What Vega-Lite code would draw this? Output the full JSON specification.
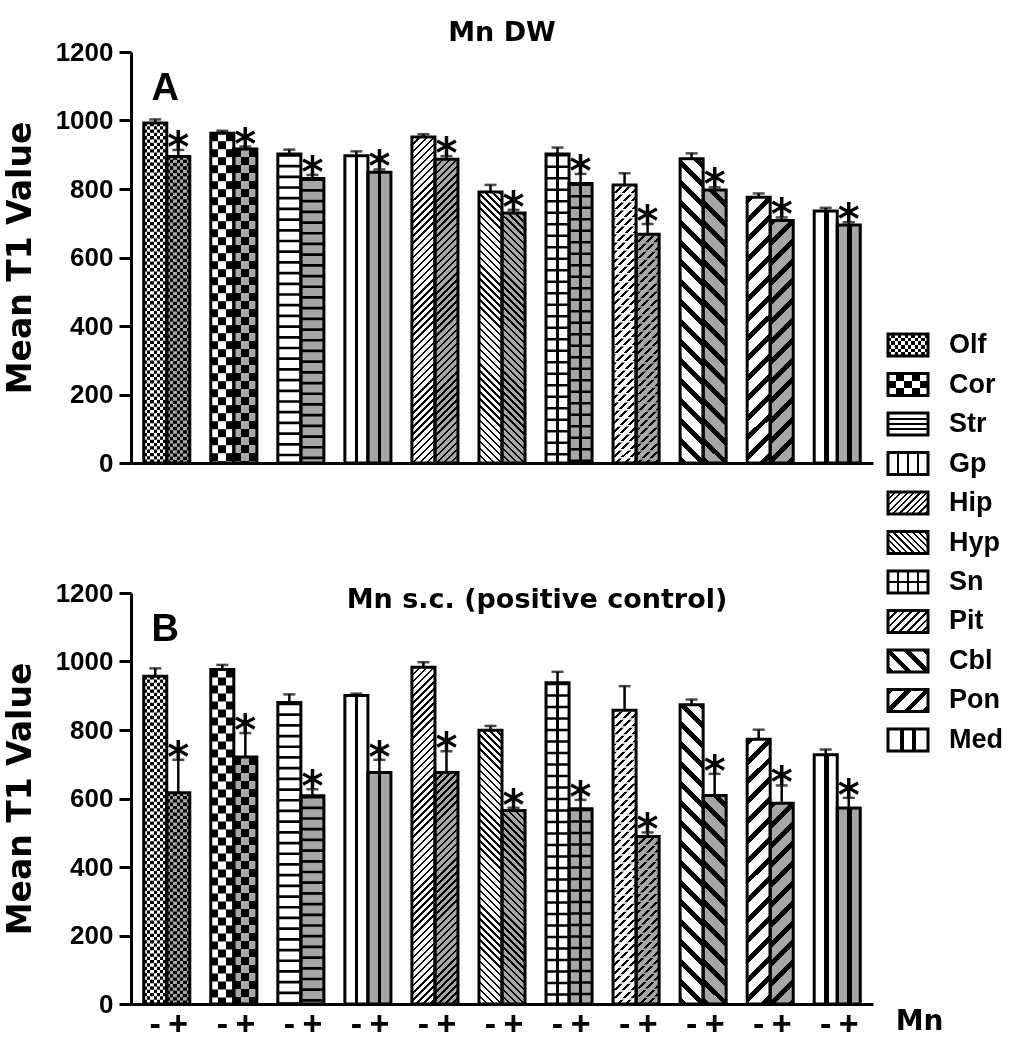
{
"$schema": "https://vega.github.io/schema/vega-lite/v6.json",
"background": "white",
"padding": {"left": 4, "top": 19, "right": 5, "bottom": 5},
"bounds": "flush",
"spacing": 757,
"params": [{"name": "D", "value": [
{"offset":0,"color":"#000"},{"offset":0.0063,"color":"#000"},{"offset":0.0063,"color":"#0000"},{"offset":0.0179,"color":"#0000"},
{"offset":0.0179,"color":"#000"},{"offset":0.0242,"color":"#000"},{"offset":0.0242,"color":"#0000"},{"offset":0.0357,"color":"#0000"},
{"offset":0.0357,"color":"#000"},{"offset":0.042,"color":"#000"},{"offset":0.042,"color":"#0000"},{"offset":0.0536,"color":"#0000"},
{"offset":0.0536,"color":"#000"},{"offset":0.0599,"color":"#000"},{"offset":0.0599,"color":"#0000"},{"offset":0.0714,"color":"#0000"},
{"offset":0.0714,"color":"#000"},{"offset":0.0777,"color":"#000"},{"offset":0.0777,"color":"#0000"},{"offset":0.0893,"color":"#0000"},
{"offset":0.0893,"color":"#000"},{"offset":0.0956,"color":"#000"},{"offset":0.0956,"color":"#0000"},{"offset":0.1071,"color":"#0000"},
{"offset":0.1071,"color":"#000"},{"offset":0.1134,"color":"#000"},{"offset":0.1134,"color":"#0000"},{"offset":0.125,"color":"#0000"},
{"offset":0.125,"color":"#000"},{"offset":0.1313,"color":"#000"},{"offset":0.1313,"color":"#0000"},{"offset":0.1429,"color":"#0000"},
{"offset":0.1429,"color":"#000"},{"offset":0.1492,"color":"#000"},{"offset":0.1492,"color":"#0000"},{"offset":0.1607,"color":"#0000"},
{"offset":0.1607,"color":"#000"},{"offset":0.167,"color":"#000"},{"offset":0.167,"color":"#0000"},{"offset":0.1786,"color":"#0000"},
{"offset":0.1786,"color":"#000"},{"offset":0.1849,"color":"#000"},{"offset":0.1849,"color":"#0000"},{"offset":0.1964,"color":"#0000"},
{"offset":0.1964,"color":"#000"},{"offset":0.2027,"color":"#000"},{"offset":0.2027,"color":"#0000"},{"offset":0.2143,"color":"#0000"},
{"offset":0.2143,"color":"#000"},{"offset":0.2206,"color":"#000"},{"offset":0.2206,"color":"#0000"},{"offset":0.2321,"color":"#0000"},
{"offset":0.2321,"color":"#000"},{"offset":0.2384,"color":"#000"},{"offset":0.2384,"color":"#0000"},{"offset":0.25,"color":"#0000"},
{"offset":0.25,"color":"#000"},{"offset":0.2563,"color":"#000"},{"offset":0.2563,"color":"#0000"},{"offset":0.2679,"color":"#0000"},
{"offset":0.2679,"color":"#000"},{"offset":0.2742,"color":"#000"},{"offset":0.2742,"color":"#0000"},{"offset":0.2857,"color":"#0000"},
{"offset":0.2857,"color":"#000"},{"offset":0.292,"color":"#000"},{"offset":0.292,"color":"#0000"},{"offset":0.3036,"color":"#0000"},
{"offset":0.3036,"color":"#000"},{"offset":0.3099,"color":"#000"},{"offset":0.3099,"color":"#0000"},{"offset":0.3214,"color":"#0000"},
{"offset":0.3214,"color":"#000"},{"offset":0.3277,"color":"#000"},{"offset":0.3277,"color":"#0000"},{"offset":0.3393,"color":"#0000"},
{"offset":0.3393,"color":"#000"},{"offset":0.3456,"color":"#000"},{"offset":0.3456,"color":"#0000"},{"offset":0.3571,"color":"#0000"},
{"offset":0.3571,"color":"#000"},{"offset":0.3634,"color":"#000"},{"offset":0.3634,"color":"#0000"},{"offset":0.375,"color":"#0000"},
{"offset":0.375,"color":"#000"},{"offset":0.3813,"color":"#000"},{"offset":0.3813,"color":"#0000"},{"offset":0.3929,"color":"#0000"},
{"offset":0.3929,"color":"#000"},{"offset":0.3992,"color":"#000"},{"offset":0.3992,"color":"#0000"},{"offset":0.4107,"color":"#0000"},
{"offset":0.4107,"color":"#000"},{"offset":0.417,"color":"#000"},{"offset":0.417,"color":"#0000"},{"offset":0.4286,"color":"#0000"},
{"offset":0.4286,"color":"#000"},{"offset":0.4349,"color":"#000"},{"offset":0.4349,"color":"#0000"},{"offset":0.4464,"color":"#0000"},
{"offset":0.4464,"color":"#000"},{"offset":0.4527,"color":"#000"},{"offset":0.4527,"color":"#0000"},{"offset":0.4643,"color":"#0000"},
{"offset":0.4643,"color":"#000"},{"offset":0.4706,"color":"#000"},{"offset":0.4706,"color":"#0000"},{"offset":0.4821,"color":"#0000"},
{"offset":0.4821,"color":"#000"},{"offset":0.4884,"color":"#000"},{"offset":0.4884,"color":"#0000"},{"offset":0.5,"color":"#0000"},
{"offset":0.5,"color":"#000"},{"offset":0.5063,"color":"#000"},{"offset":0.5063,"color":"#0000"},{"offset":0.5179,"color":"#0000"},
{"offset":0.5179,"color":"#000"},{"offset":0.5242,"color":"#000"},{"offset":0.5242,"color":"#0000"},{"offset":0.5357,"color":"#0000"},
{"offset":0.5357,"color":"#000"},{"offset":0.542,"color":"#000"},{"offset":0.542,"color":"#0000"},{"offset":0.5536,"color":"#0000"},
{"offset":0.5536,"color":"#000"},{"offset":0.5599,"color":"#000"},{"offset":0.5599,"color":"#0000"},{"offset":0.5714,"color":"#0000"},
{"offset":0.5714,"color":"#000"},{"offset":0.5777,"color":"#000"},{"offset":0.5777,"color":"#0000"},{"offset":0.5893,"color":"#0000"},
{"offset":0.5893,"color":"#000"},{"offset":0.5956,"color":"#000"},{"offset":0.5956,"color":"#0000"},{"offset":0.6071,"color":"#0000"},
{"offset":0.6071,"color":"#000"},{"offset":0.6134,"color":"#000"},{"offset":0.6134,"color":"#0000"},{"offset":0.625,"color":"#0000"},
{"offset":0.625,"color":"#000"},{"offset":0.6313,"color":"#000"},{"offset":0.6313,"color":"#0000"},{"offset":0.6429,"color":"#0000"},
{"offset":0.6429,"color":"#000"},{"offset":0.6492,"color":"#000"},{"offset":0.6492,"color":"#0000"},{"offset":0.6607,"color":"#0000"},
{"offset":0.6607,"color":"#000"},{"offset":0.667,"color":"#000"},{"offset":0.667,"color":"#0000"},{"offset":0.6786,"color":"#0000"},
{"offset":0.6786,"color":"#000"},{"offset":0.6849,"color":"#000"},{"offset":0.6849,"color":"#0000"},{"offset":0.6964,"color":"#0000"},
{"offset":0.6964,"color":"#000"},{"offset":0.7027,"color":"#000"},{"offset":0.7027,"color":"#0000"},{"offset":0.7143,"color":"#0000"},
{"offset":0.7143,"color":"#000"},{"offset":0.7206,"color":"#000"},{"offset":0.7206,"color":"#0000"},{"offset":0.7321,"color":"#0000"},
{"offset":0.7321,"color":"#000"},{"offset":0.7384,"color":"#000"},{"offset":0.7384,"color":"#0000"},{"offset":0.75,"color":"#0000"},
{"offset":0.75,"color":"#000"},{"offset":0.7563,"color":"#000"},{"offset":0.7563,"color":"#0000"},{"offset":0.7679,"color":"#0000"},
{"offset":0.7679,"color":"#000"},{"offset":0.7742,"color":"#000"},{"offset":0.7742,"color":"#0000"},{"offset":0.7857,"color":"#0000"},
{"offset":0.7857,"color":"#000"},{"offset":0.792,"color":"#000"},{"offset":0.792,"color":"#0000"},{"offset":0.8036,"color":"#0000"},
{"offset":0.8036,"color":"#000"},{"offset":0.8099,"color":"#000"},{"offset":0.8099,"color":"#0000"},{"offset":0.8214,"color":"#0000"},
{"offset":0.8214,"color":"#000"},{"offset":0.8277,"color":"#000"},{"offset":0.8277,"color":"#0000"},{"offset":0.8393,"color":"#0000"},
{"offset":0.8393,"color":"#000"},{"offset":0.8456,"color":"#000"},{"offset":0.8456,"color":"#0000"},{"offset":0.8571,"color":"#0000"},
{"offset":0.8571,"color":"#000"},{"offset":0.8634,"color":"#000"},{"offset":0.8634,"color":"#0000"},{"offset":0.875,"color":"#0000"},
{"offset":0.875,"color":"#000"},{"offset":0.8813,"color":"#000"},{"offset":0.8813,"color":"#0000"},{"offset":0.8929,"color":"#0000"},
{"offset":0.8929,"color":"#000"},{"offset":0.8992,"color":"#000"},{"offset":0.8992,"color":"#0000"},{"offset":0.9107,"color":"#0000"},
{"offset":0.9107,"color":"#000"},{"offset":0.917,"color":"#000"},{"offset":0.917,"color":"#0000"},{"offset":0.9286,"color":"#0000"},
{"offset":0.9286,"color":"#000"},{"offset":0.9349,"color":"#000"},{"offset":0.9349,"color":"#0000"},{"offset":0.9464,"color":"#0000"},
{"offset":0.9464,"color":"#000"},{"offset":0.9527,"color":"#000"},{"offset":0.9527,"color":"#0000"},{"offset":0.9643,"color":"#0000"},
{"offset":0.9643,"color":"#000"},{"offset":0.9706,"color":"#000"},{"offset":0.9706,"color":"#0000"},{"offset":0.9821,"color":"#0000"},
{"offset":0.9821,"color":"#000"},{"offset":0.9884,"color":"#000"},{"offset":0.9884,"color":"#0000"},{"offset":1,"color":"#0000"}
]}],
"datasets": {
"A": [
{"r":"Olf","m":"-","v":993,"hi":1003},{"r":"Olf","m":"+","v":895,"hi":914},
{"r":"Cor","m":"-","v":963,"hi":970},{"r":"Cor","m":"+","v":917,"hi":924},
{"r":"Str","m":"-","v":902,"hi":915},{"r":"Str","m":"+","v":831,"hi":841},
{"r":"Gp","m":"-","v":897,"hi":910},{"r":"Gp","m":"+","v":849,"hi":857},
{"r":"Hip","m":"-","v":952,"hi":960},{"r":"Hip","m":"+","v":887,"hi":896},
{"r":"Hyp","m":"-","v":791,"hi":812},{"r":"Hyp","m":"+","v":730,"hi":739},
{"r":"Sn","m":"-","v":902,"hi":921},{"r":"Sn","m":"+","v":816,"hi":844},
{"r":"Pit","m":"-","v":812,"hi":846},{"r":"Pit","m":"+","v":668,"hi":698},
{"r":"Cbl","m":"-","v":888,"hi":904},{"r":"Cbl","m":"+","v":797,"hi":805},
{"r":"Pon","m":"-","v":776,"hi":787},{"r":"Pon","m":"+","v":708,"hi":717},
{"r":"Med","m":"-","v":736,"hi":745},{"r":"Med","m":"+","v":695,"hi":703}],
"B": [
{"r":"Olf","m":"-","v":957,"hi":980},{"r":"Olf","m":"+","v":617,"hi":713},
{"r":"Cor","m":"-","v":977,"hi":990},{"r":"Cor","m":"+","v":721,"hi":791},
{"r":"Str","m":"-","v":880,"hi":904},{"r":"Str","m":"+","v":608,"hi":627},
{"r":"Gp","m":"-","v":901,"hi":906},{"r":"Gp","m":"+","v":676,"hi":713},
{"r":"Hip","m":"-","v":983,"hi":998},{"r":"Hip","m":"+","v":676,"hi":738},
{"r":"Hyp","m":"-","v":799,"hi":812},{"r":"Hyp","m":"+","v":565,"hi":573},
{"r":"Sn","m":"-","v":938,"hi":970},{"r":"Sn","m":"+","v":570,"hi":596},
{"r":"Pit","m":"-","v":858,"hi":928},{"r":"Pit","m":"+","v":489,"hi":501},
{"r":"Cbl","m":"-","v":874,"hi":889},{"r":"Cbl","m":"+","v":609,"hi":672},
{"r":"Pon","m":"-","v":773,"hi":801},{"r":"Pon","m":"+","v":586,"hi":638},
{"r":"Med","m":"-","v":728,"hi":743},{"r":"Med","m":"+","v":572,"hi":602}]
},
"hconcat": [
{"vconcat": [
{
"data": {"name": "A"},
"width": 742, "height": 411,
"title": {"text": "Mn DW", "frame": "group", "offset": -8},
"encoding": {
"x": {"field": "r", "type": "nominal", "sort": ["Olf","Cor","Str","Gp","Hip","Hyp","Sn","Pit","Cbl","Pon","Med"], "scale": {"paddingInner": 0.313, "paddingOuter": 0.19}, "axis": {"labels": false, "ticks": false, "title": null, "domainWidth": 3}},
"xOffset": {"field": "m", "type": "nominal", "sort": ["-","+"], "scale": {"paddingInner": 0, "paddingOuter": 0}},
"y": {"field": "v", "type": "quantitative", "scale": {"domain": [0,1200]}, "axis": {"values": [0,200,400,600,800,1000,1200], "format": "d", "grid": false, "title": "Mean T1 Value", "tickSize": 12, "tickWidth": 3, "domainWidth": 3, "labelPadding": 6, "titlePadding": 18}}
},
"layer": [
{"mark": {"type": "bar", "fill": "#fff"}},
{"transform": [{"filter": {"field": "r", "oneOf": ["Olf","Cor","Gp","Sn","Med"]}}], "mark": {"type": "bar", "fill": {"expr": "datum.r=='Cor'?{gradient:'linear',x1:0,y1:0,x2:1,y2:0,stops:[{offset:0.3333,color:'#0000'},{offset:0.3333,color:'#000'},{offset:0.6667,color:'#000'},{offset:0.6667,color:'#0000'}]}:datum.r=='Med'?{gradient:'linear',x1:0,y1:0,x2:1,y2:0,stops:[{offset:0.42,color:'#0000'},{offset:0.42,color:'#000'},{offset:0.64,color:'#000'},{offset:0.64,color:'#0000'}]}:datum.r=='Olf'?{gradient:'linear',x1:0,y1:0,x2:1,y2:0,stops:[{offset:0.1429,color:'#0000'},{offset:0.1429,color:'#000'},{offset:0.2857,color:'#000'},{offset:0.2857,color:'#0000'},{offset:0.4286,color:'#0000'},{offset:0.4286,color:'#000'},{offset:0.5714,color:'#000'},{offset:0.5714,color:'#0000'},{offset:0.7143,color:'#0000'},{offset:0.7143,color:'#000'},{offset:0.8571,color:'#000'},{offset:0.8571,color:'#0000'}]}:{gradient:'linear',x1:0,y1:0,x2:1,y2:0,stops:[{offset:0.45,color:'#0000'},{offset:0.45,color:'#000'},{offset:0.55,color:'#000'},{offset:0.55,color:'#0000'}]}"}}},
{"transform": [{"filter": {"field": "r", "oneOf": ["Str","Sn"]}}], "mark": {"type": "rule", "color": "#000", "strokeWidth": 23}, "encoding": {"y2": {"datum": 0}, "strokeDash": {"condition": {"test": "datum.r=='Str'", "value": [2.7,8]}, "value": [2.5,9]}}},
{"transform": [{"filter": {"field": "r", "oneOf": ["Olf","Cor"]}}], "mark": {"type": "rule", "color": "#fff", "strokeWidth": 23, "blend": "difference"}, "encoding": {"y2": {"datum": 0}, "strokeDash": {"condition": {"test": "datum.r=='Cor'", "value": [8,8]}, "value": [3.3,3.3]}}},
{"transform": [{"filter": {"field": "r", "oneOf": ["Hip","Pon","Pit"]}}], "mark": {"type": "bar", "fill": {"expr": "{gradient:'linear',x1:0,y1:0,x2:79.2*(datum.r=='Pon'?14:datum.r=='Pit'?6:5)*23/(529+pow(datum.v*0.3425,2)),y2:79.2*(datum.r=='Pon'?14:datum.r=='Pit'?6:5)*datum.v*0.3425/(529+pow(datum.v*0.3425,2)),stops:D}"}}},
{"transform": [{"filter": {"field": "r", "oneOf": ["Hyp","Cbl"]}}], "mark": {"type": "bar", "fill": {"expr": "{gradient:'linear',x1:0,y1:1,x2:79.2*(datum.r=='Cbl'?14:5)*23/(529+pow(datum.v*0.3425,2)),y2:1-79.2*(datum.r=='Cbl'?14:5)*datum.v*0.3425/(529+pow(datum.v*0.3425,2)),stops:D}"}}},
{"transform": [{"filter": "datum.r=='Pit'"}], "mark": {"type": "rule", "color": "#fff", "strokeWidth": 23, "strokeDash": [1.5,6.5]}, "encoding": {"y2": {"datum": 0}}},
{"transform": [{"filter": "datum.m=='+'"}], "mark": {"type": "bar", "fill": "#a6a6a6", "blend": "multiply"}},
{"mark": {"type": "bar", "fill": "transparent", "stroke": "#000", "strokeWidth": 3}},
{"mark": {"type": "rule", "color": "#000", "strokeWidth": 2.5}, "encoding": {"y": {"field": "hi", "type": "quantitative"}, "y2": {"field": "v"}}},
{"mark": {"type": "tick", "color": "#000", "size": 12, "thickness": 2.5}, "encoding": {"y": {"field": "hi", "type": "quantitative"}}},
{"transform": [{"filter": "datum.m=='+'"}], "mark": {"type": "text", "text": "*", "font": "DejaVu Sans", "fontWeight": "bold", "fontSize": 42, "baseline": "alphabetic", "dy": 12, "color": "#000"}, "encoding": {"y": {"field": "hi", "type": "quantitative"}}},
{"transform": [{"filter": "datum.r=='Olf' && datum.m=='-'"}], "mark": {"type": "text", "text": "A", "font": "Liberation Sans", "fontWeight": "bold", "fontSize": 38, "baseline": "alphabetic", "align": "center", "dx": 10, "color": "#000"}, "encoding": {"y": {"datum": 1060}}}
]
},
{
"data": {"name": "B"},
"width": 742, "height": 411,
"title": {"text": "Mn s.c. (positive control)", "frame": "group", "offset": -34, "dx": 35},
"encoding": {
"x": {"field": "r", "type": "nominal", "sort": ["Olf","Cor","Str","Gp","Hip","Hyp","Sn","Pit","Cbl","Pon","Med"], "scale": {"paddingInner": 0.313, "paddingOuter": 0.19}, "axis": {"labels": false, "ticks": false, "title": null, "domainWidth": 3}},
"xOffset": {"field": "m", "type": "nominal", "sort": ["-","+"], "scale": {"paddingInner": 0, "paddingOuter": 0}},
"y": {"field": "v", "type": "quantitative", "scale": {"domain": [0,1200]}, "axis": {"values": [0,200,400,600,800,1000,1200], "format": "d", "grid": false, "title": "Mean T1 Value", "tickSize": 12, "tickWidth": 3, "domainWidth": 3, "labelPadding": 6, "titlePadding": 18}}
},
"layer": [
{"mark": {"type": "bar", "fill": "#fff"}},
{"transform": [{"filter": {"field": "r", "oneOf": ["Olf","Cor","Gp","Sn","Med"]}}], "mark": {"type": "bar", "fill": {"expr": "datum.r=='Cor'?{gradient:'linear',x1:0,y1:0,x2:1,y2:0,stops:[{offset:0.3333,color:'#0000'},{offset:0.3333,color:'#000'},{offset:0.6667,color:'#000'},{offset:0.6667,color:'#0000'}]}:datum.r=='Med'?{gradient:'linear',x1:0,y1:0,x2:1,y2:0,stops:[{offset:0.42,color:'#0000'},{offset:0.42,color:'#000'},{offset:0.64,color:'#000'},{offset:0.64,color:'#0000'}]}:datum.r=='Olf'?{gradient:'linear',x1:0,y1:0,x2:1,y2:0,stops:[{offset:0.1429,color:'#0000'},{offset:0.1429,color:'#000'},{offset:0.2857,color:'#000'},{offset:0.2857,color:'#0000'},{offset:0.4286,color:'#0000'},{offset:0.4286,color:'#000'},{offset:0.5714,color:'#000'},{offset:0.5714,color:'#0000'},{offset:0.7143,color:'#0000'},{offset:0.7143,color:'#000'},{offset:0.8571,color:'#000'},{offset:0.8571,color:'#0000'}]}:{gradient:'linear',x1:0,y1:0,x2:1,y2:0,stops:[{offset:0.45,color:'#0000'},{offset:0.45,color:'#000'},{offset:0.55,color:'#000'},{offset:0.55,color:'#0000'}]}"}}},
{"transform": [{"filter": {"field": "r", "oneOf": ["Str","Sn"]}}], "mark": {"type": "rule", "color": "#000", "strokeWidth": 23}, "encoding": {"y2": {"datum": 0}, "strokeDash": {"condition": {"test": "datum.r=='Str'", "value": [2.7,8]}, "value": [2.5,9]}}},
{"transform": [{"filter": {"field": "r", "oneOf": ["Olf","Cor"]}}], "mark": {"type": "rule", "color": "#fff", "strokeWidth": 23, "blend": "difference"}, "encoding": {"y2": {"datum": 0}, "strokeDash": {"condition": {"test": "datum.r=='Cor'", "value": [8,8]}, "value": [3.3,3.3]}}},
{"transform": [{"filter": {"field": "r", "oneOf": ["Hip","Pon","Pit"]}}], "mark": {"type": "bar", "fill": {"expr": "{gradient:'linear',x1:0,y1:0,x2:79.2*(datum.r=='Pon'?14:datum.r=='Pit'?6:5)*23/(529+pow(datum.v*0.3425,2)),y2:79.2*(datum.r=='Pon'?14:datum.r=='Pit'?6:5)*datum.v*0.3425/(529+pow(datum.v*0.3425,2)),stops:D}"}}},
{"transform": [{"filter": {"field": "r", "oneOf": ["Hyp","Cbl"]}}], "mark": {"type": "bar", "fill": {"expr": "{gradient:'linear',x1:0,y1:1,x2:79.2*(datum.r=='Cbl'?14:5)*23/(529+pow(datum.v*0.3425,2)),y2:1-79.2*(datum.r=='Cbl'?14:5)*datum.v*0.3425/(529+pow(datum.v*0.3425,2)),stops:D}"}}},
{"transform": [{"filter": "datum.r=='Pit'"}], "mark": {"type": "rule", "color": "#fff", "strokeWidth": 23, "strokeDash": [1.5,6.5]}, "encoding": {"y2": {"datum": 0}}},
{"transform": [{"filter": "datum.m=='+'"}], "mark": {"type": "bar", "fill": "#a6a6a6", "blend": "multiply"}},
{"mark": {"type": "bar", "fill": "transparent", "stroke": "#000", "strokeWidth": 3}},
{"mark": {"type": "rule", "color": "#000", "strokeWidth": 2.5}, "encoding": {"y": {"field": "hi", "type": "quantitative"}, "y2": {"field": "v"}}},
{"mark": {"type": "tick", "color": "#000", "size": 12, "thickness": 2.5}, "encoding": {"y": {"field": "hi", "type": "quantitative"}}},
{"transform": [{"filter": "datum.m=='+'"}], "mark": {"type": "text", "text": "*", "font": "DejaVu Sans", "fontWeight": "bold", "fontSize": 42, "baseline": "alphabetic", "dy": 12, "color": "#000"}, "encoding": {"y": {"field": "hi", "type": "quantitative"}}},
{"mark": {"type": "text", "font": "Liberation Sans", "fontWeight": "bold", "fontSize": 34, "baseline": "middle", "dy": 21, "color": "#000"}, "encoding": {"y": {"datum": 0}, "text": {"field": "m"}}},
{"transform": [{"filter": "datum.r=='Olf' && datum.m=='-'"}], "mark": {"type": "text", "text": "B", "font": "Liberation Sans", "fontWeight": "bold", "fontSize": 38, "baseline": "alphabetic", "align": "center", "dx": 10, "color": "#000"}, "encoding": {"y": {"datum": 1060}}},
{"transform": [{"filter": "datum.r=='Med' && datum.m=='+'"}], "mark": {"type": "text", "text": "Mn", "font": "DejaVu Sans", "fontWeight": "bold", "fontSize": 28, "baseline": "middle", "align": "left", "dx": 47, "dy": 18, "color": "#000"}, "encoding": {"y": {"datum": 0}}}
]
}
], "spacing": 130, "bounds": "flush"},
{
"data": {"values": [{"r":"Olf"},{"r":"Cor"},{"r":"Str"},{"r":"Gp"},{"r":"Hip"},{"r":"Hyp"},{"r":"Sn"},{"r":"Pit"},{"r":"Cbl"},{"r":"Pon"},{"r":"Med"}]},
"width": 140, "height": 700,
"encoding": {"y": {"field": "r", "type": "nominal", "sort": null, "scale": {"paddingInner": 0.443, "paddingOuter": 0, "range": [282, 699]}, "axis": null}},
"layer": [
{"mark": {"type": "rect", "fill": "#fff"}, "encoding": {"x": {"datum": 0, "type": "quantitative", "scale": {"domain": [0,140]}, "axis": null}, "x2": {"datum": 40}}},
{"transform": [{"filter": {"field": "r", "oneOf": ["Olf","Cor","Gp","Sn","Med"]}}], "mark": {"type": "rect", "fill": {"expr": "datum.r=='Olf'?{gradient:'linear',x1:0,y1:0,x2:1,y2:0,stops:[{offset:0.0833,color:'#0000'},{offset:0.0833,color:'#000'},{offset:0.1667,color:'#000'},{offset:0.1667,color:'#0000'},{offset:0.25,color:'#0000'},{offset:0.25,color:'#000'},{offset:0.3333,color:'#000'},{offset:0.3333,color:'#0000'},{offset:0.4167,color:'#0000'},{offset:0.4167,color:'#000'},{offset:0.5,color:'#000'},{offset:0.5,color:'#0000'},{offset:0.5833,color:'#0000'},{offset:0.5833,color:'#000'},{offset:0.6667,color:'#000'},{offset:0.6667,color:'#0000'},{offset:0.75,color:'#0000'},{offset:0.75,color:'#000'},{offset:0.8333,color:'#000'},{offset:0.8333,color:'#0000'},{offset:0.9167,color:'#0000'},{offset:0.9167,color:'#000'}]}:datum.r=='Cor'?{gradient:'linear',x1:0,y1:0,x2:1,y2:0,stops:[{offset:0.2,color:'#0000'},{offset:0.2,color:'#000'},{offset:0.4,color:'#000'},{offset:0.4,color:'#0000'},{offset:0.6,color:'#0000'},{offset:0.6,color:'#000'},{offset:0.8,color:'#000'},{offset:0.8,color:'#0000'}]}:datum.r=='Med'?{gradient:'linear',x1:0,y1:0,x2:1,y2:0,stops:[{offset:0.29,color:'#0000'},{offset:0.29,color:'#000'},{offset:0.39,color:'#000'},{offset:0.39,color:'#0000'},{offset:0.61,color:'#0000'},{offset:0.61,color:'#000'},{offset:0.71,color:'#000'},{offset:0.71,color:'#0000'}]}:{gradient:'linear',x1:0,y1:0,x2:1,y2:0,stops:[{offset:0.225,color:'#0000'},{offset:0.225,color:'#000'},{offset:0.275,color:'#000'},{offset:0.275,color:'#0000'},{offset:0.475,color:'#0000'},{offset:0.475,color:'#000'},{offset:0.525,color:'#000'},{offset:0.525,color:'#0000'},{offset:0.725,color:'#0000'},{offset:0.725,color:'#000'},{offset:0.775,color:'#000'},{offset:0.775,color:'#0000'}]}"}}, "encoding": {"x": {"datum": 0, "type": "quantitative"}, "x2": {"datum": 40}}},
{"transform": [{"filter": {"field": "r", "oneOf": ["Str","Sn"]}}], "mark": {"type": "rect", "fill": {"expr": "datum.r=='Str'?{gradient:'linear',x1:0,y1:0,x2:0.0001,y2:1,stops:[{offset:0.22,color:'#0000'},{offset:0.22,color:'#000'},{offset:0.3,color:'#000'},{offset:0.3,color:'#0000'},{offset:0.46,color:'#0000'},{offset:0.46,color:'#000'},{offset:0.54,color:'#000'},{offset:0.54,color:'#0000'},{offset:0.7,color:'#0000'},{offset:0.7,color:'#000'},{offset:0.78,color:'#000'},{offset:0.78,color:'#0000'}]}:{gradient:'linear',x1:0,y1:0,x2:0.0001,y2:1,stops:[{offset:0.44,color:'#0000'},{offset:0.44,color:'#000'},{offset:0.56,color:'#000'},{offset:0.56,color:'#0000'}]}"}}, "encoding": {"x": {"datum": 0, "type": "quantitative"}, "x2": {"datum": 40}}},
{"transform": [{"filter": {"field": "r", "oneOf": ["Olf","Cor"]}}], "mark": {"type": "rect", "blend": "difference", "fill": {"expr": "datum.r=='Cor'?{gradient:'linear',x1:0,y1:0,x2:0.0001,y2:1,stops:[{offset:0.3333,color:'#fff0'},{offset:0.3333,color:'#fff'},{offset:0.6667,color:'#fff'},{offset:0.6667,color:'#fff0'}]}:{gradient:'linear',x1:0,y1:0,x2:0.0001,y2:1,stops:[{offset:0.1667,color:'#fff0'},{offset:0.1667,color:'#fff'},{offset:0.3333,color:'#fff'},{offset:0.3333,color:'#fff0'},{offset:0.5,color:'#fff0'},{offset:0.5,color:'#fff'},{offset:0.6667,color:'#fff'},{offset:0.6667,color:'#fff0'},{offset:0.8333,color:'#fff0'},{offset:0.8333,color:'#fff'}]}"}}, "encoding": {"x": {"datum": 0, "type": "quantitative"}, "x2": {"datum": 40}}},
{"transform": [{"filter": {"field": "r", "oneOf": ["Hip","Pon","Pit"]}}], "mark": {"type": "rect", "fill": {"expr": "{gradient:'linear',x1:0,y1:0,x2:datum.r=='Pon'?19.76:datum.r=='Pit'?8.36:6.84,y2:datum.r=='Pon'?10.87:datum.r=='Pit'?4.6:3.76,stops:D}"}}, "encoding": {"x": {"datum": 0, "type": "quantitative"}, "x2": {"datum": 40}}},
{"transform": [{"filter": {"field": "r", "oneOf": ["Hyp","Cbl"]}}], "mark": {"type": "rect", "fill": {"expr": "{gradient:'linear',x1:0,y1:1,x2:datum.r=='Cbl'?19.76:6.84,y2:datum.r=='Cbl'?-9.87:-2.76,stops:D}"}}, "encoding": {"x": {"datum": 0, "type": "quantitative"}, "x2": {"datum": 40}}},
{"mark": {"type": "rect", "fill": "transparent", "stroke": "#000", "strokeWidth": 3}, "encoding": {"x": {"datum": 0, "type": "quantitative"}, "x2": {"datum": 40}}},
{"mark": {"type": "text", "align": "left", "baseline": "middle", "font": "Liberation Sans", "fontWeight": "bold", "fontSize": 27, "color": "#000"}, "encoding": {"x": {"datum": 61, "type": "quantitative"}, "text": {"field": "r"}}}
]
}
],
"config": {
"view": {"stroke": null},
"axis": {"labelFont": "Liberation Sans", "labelFontWeight": "bold", "labelColor": "#000", "labelFontSize": 26, "titleFont": "DejaVu Sans", "titleFontWeight": "bold", "titleColor": "#000", "titleFontSize": 33, "domainColor": "#000", "tickColor": "#000"},
"title": {"font": "DejaVu Sans", "fontWeight": "bold", "fontSize": 27, "color": "#000"}
}
}
